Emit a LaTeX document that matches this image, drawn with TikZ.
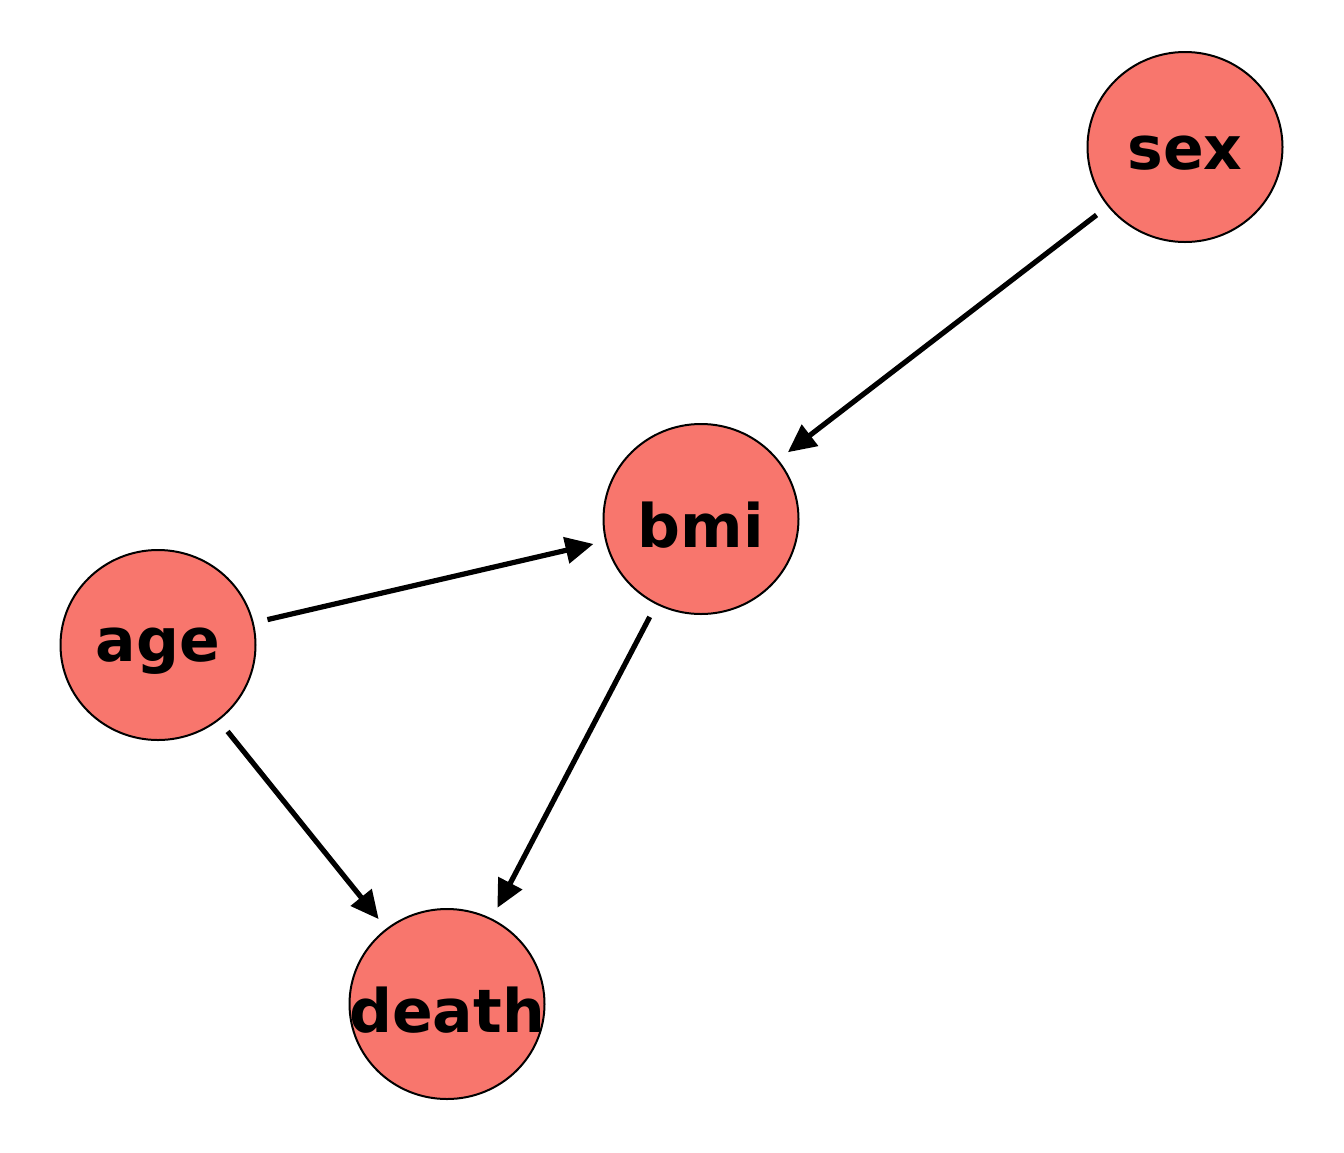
\documentclass[tikz,border=0pt]{standalone}
\usepackage{fontspec}
\setmainfont{DejaVu Sans}
\usetikzlibrary{shapes.geometric,arrows.meta}
\definecolor{nodefill}{HTML}{F8766D}
\tikzset{
  varnode/.style={ellipse, draw=black, line width=1pt, fill=nodefill,
    minimum width=97.5pt, minimum height=95pt, inner sep=0pt},
  vartext/.style={inner sep=0pt, yshift=-3pt,
    font=\fontsize{30}{32}\selectfont\bfseries},
  edge/.style={line width=2.6pt, -{Triangle[length=14pt,width=13pt]},
    shorten <=7pt, shorten >=6pt}
}
\begin{document}
\begin{tikzpicture}[x=0.5pt,y=-0.5pt]
\useasboundingbox (0,0) rectangle (1344,1152);
\node[varnode] (sex) at (1185,147) {};
\node[varnode] (bmi) at (701,519) {};
\node[varnode] (age) at (158,645) {};
\node[varnode] (death) at (447,1004) {};
\node[vartext] (sext) at (sex) {sex};
\node[vartext] (bmit) at (bmi) {bmi};
\node[vartext] (aget) at (age) {age};
\node[vartext] (deatht) at (death) {death};
\draw[edge] (sex) -- (bmi);
\draw[edge] (age) -- (bmi);
\draw[edge] (age) -- (death);
\draw[edge] (bmi) -- (death);
\end{tikzpicture}
\end{document}
